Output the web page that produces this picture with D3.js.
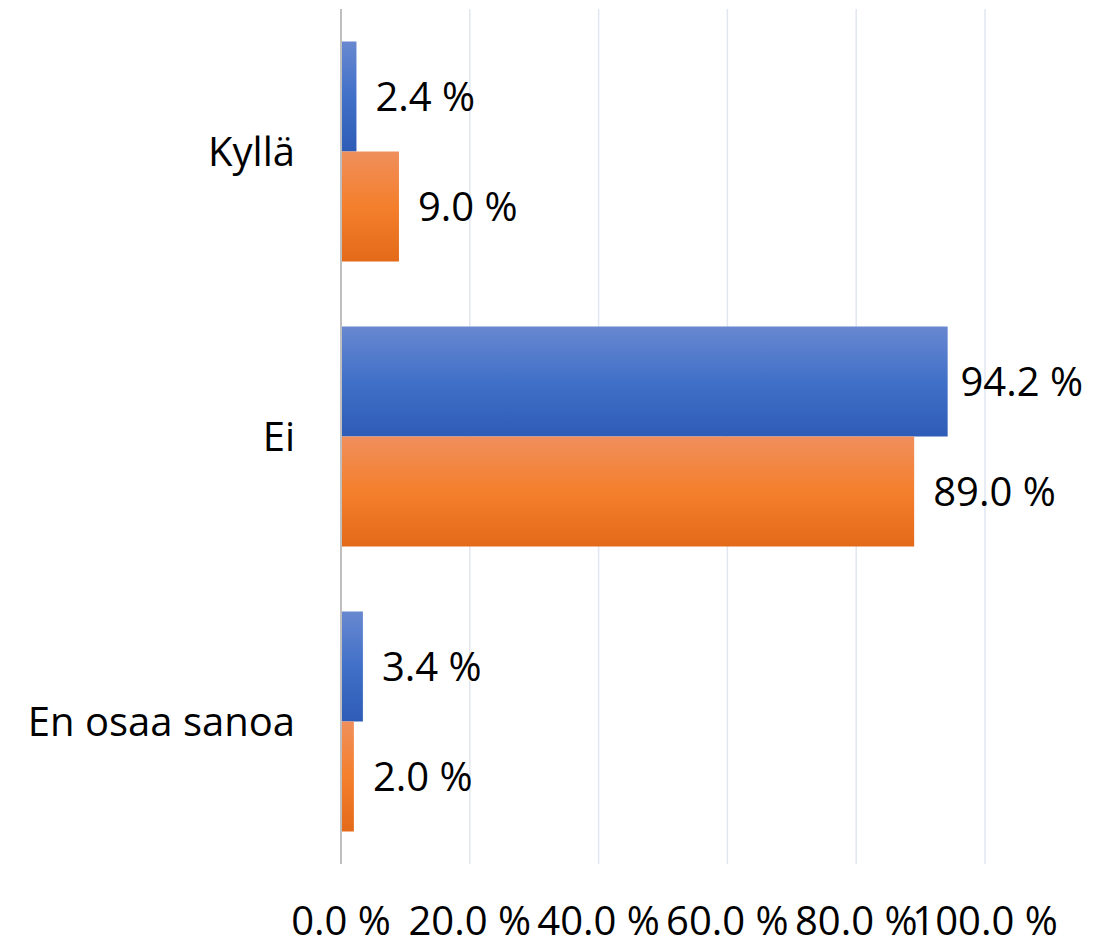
<!DOCTYPE html>
<html lang="fi">
<head>
  <meta charset="UTF-8">
  <title>Kyllä / Ei / En osaa sanoa</title>
  <script src="https://d3js.org/d3.v7.min.js"></script>
  <style>
    body { margin: 0; background: #fff; }
    text { font-family: "Open Sans", sans-serif; font-size: 40px; fill: #000; }
    .grid line { stroke: #e1e6f0; stroke-width: 1.5px; }
    .axis-line { stroke: #bfbfbf; stroke-width: 2px; }
  </style>
</head>
<body>
  <script>
    // data
    const categories = ["Kyllä", "Ei", "En osaa sanoa"];
    const seriesNames = ["Sarja 1", "Sarja 2"];
    const series1 = [2.4, 94.2, 3.4];
    const series2 = [9.0, 89.0, 2.0];
    const tickValues = [0, 20, 40, 60, 80, 100];

    const W = 1115, H = 946;
    const plot = { left: 341, right: 985, top: 9, bottom: 864 };
    const labelRightLimit = 1083;

    const fmt = v => v.toFixed(1) + " %";

    const svg = d3.select("body").append("svg")
      .attr("width", W)
      .attr("height", H);

    // gradients like the office chart style
    const defs = svg.append("defs");
    const gradStops = [
      [["0%", "#6888d0"], ["50%", "#4170c8"], ["100%", "#2e5cb6"]],
      [["0%", "#f08f5c"], ["50%", "#f47f2c"], ["100%", "#e36a18"]]
    ];
    gradStops.forEach((stops, i) => {
      const g = defs.append("linearGradient")
        .attr("id", "grad" + i)
        .attr("x1", 0).attr("y1", 0).attr("x2", 0).attr("y2", 1);
      stops.forEach(s => g.append("stop").attr("offset", s[0]).attr("stop-color", s[1]));
    });

    const x = d3.scaleLinear().domain([0, 100]).range([plot.left, plot.right]);

    const gap = 65 / 285;
    const y = d3.scaleBand()
      .domain(categories)
      .range([plot.top, plot.bottom])
      .paddingInner(gap)
      .paddingOuter(gap / 2);

    const ySub = d3.scaleBand()
      .domain(seriesNames)
      .range([0, y.bandwidth()]);

    // gridlines
    svg.append("g").attr("class", "grid")
      .selectAll("line")
      .data(tickValues.slice(1))
      .join("line")
      .attr("x1", d => x(d)).attr("x2", d => x(d))
      .attr("y1", plot.top).attr("y2", plot.bottom);

    // bars
    const rows = categories.map((c, i) => ({ cat: c, values: [series1[i], series2[i]] }));

    const groups = svg.append("g")
      .selectAll("g")
      .data(rows)
      .join("g")
      .attr("transform", d => "translate(0," + y(d.cat) + ")");

    groups.selectAll("rect")
      .data(d => d.values.map((v, j) => ({ v, j })))
      .join("rect")
      .attr("x", x(0))
      .attr("y", d => ySub(seriesNames[d.j]))
      .attr("width", d => x(d.v) - x(0))
      .attr("height", ySub.bandwidth())
      .attr("fill", d => "url(#grad" + d.j + ")");

    // value labels
    groups.selectAll("text.value")
      .data(d => d.values.map((v, j) => ({ v, j })))
      .join("text")
      .attr("class", "value")
      .attr("y", d => ySub(seriesNames[d.j]) + ySub.bandwidth() / 2)
      .attr("dy", "0.36em")
      .text(d => fmt(d.v))
      .attr("x", function (d) {
        const w = this.getComputedTextLength();
        return Math.min(x(d.v) + 19, labelRightLimit - w);
      });

    // vertical axis line
    svg.append("line").attr("class", "axis-line")
      .attr("x1", x(0)).attr("x2", x(0))
      .attr("y1", plot.top).attr("y2", plot.bottom);

    // category labels
    svg.append("g")
      .selectAll("text")
      .data(categories)
      .join("text")
      .attr("x", 295)
      .attr("y", d => y(d) + y.bandwidth() / 2)
      .attr("dy", "0.36em")
      .attr("text-anchor", "end")
      .text(d => d);

    // x tick labels
    svg.append("g")
      .selectAll("text")
      .data(tickValues)
      .join("text")
      .attr("x", d => x(d))
      .attr("y", 935)
      .attr("text-anchor", "middle")
      .text(d => fmt(d));
  </script>
</body>
</html>
